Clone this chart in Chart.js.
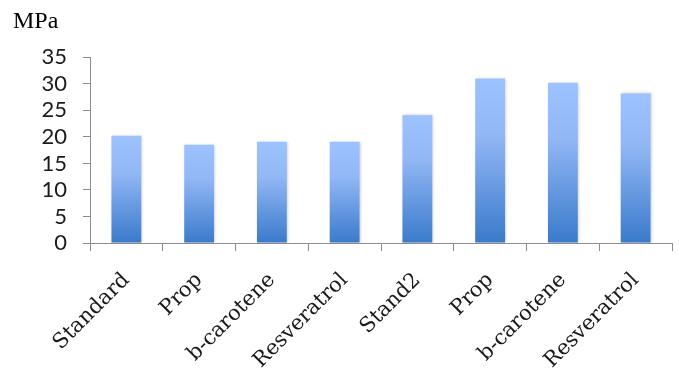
<!DOCTYPE html>
<html>
<head>
<meta charset="utf-8">
<script src="https://cdn.jsdelivr.net/npm/chart.js@4"></script>
<style>
  html, body { margin: 0; padding: 0; background: #fff; }
  #wrap { width: 679px; height: 376px; }
</style>
</head>
<body>
<div id="wrap"><canvas id="mpa"></canvas></div>
<script>
// data
var categories = ['Standard', 'Prop', 'b-carotene', 'Resveratrol', 'Stand2', 'Prop', 'b-carotene', 'Resveratrol'];
var mpaValues = [20.2, 18.5, 19.1, 19.1, 24.1, 31.0, 30.2, 28.2];
var yTicks = [0, 5, 10, 15, 20, 25, 30, 35];

// vertical gradient for each bar, from its top down to the zero line
function barGradient(context) {
    var chart = context.chart;
    var y = chart.scales.y;
    if (!y || !chart.chartArea || context.parsed === undefined) return '#7aa6e6';
    var top = y.getPixelForValue(context.parsed.y);
    var bottom = y.getPixelForValue(0);
    if (!isFinite(top) || !isFinite(bottom) || top === bottom) return '#7aa6e6';
    var g = chart.ctx.createLinearGradient(0, top, 0, bottom);
    g.addColorStop(0, '#9cc3ff');
    g.addColorStop(0.35, '#91b7f5');
    g.addColorStop(1, '#3a7acb');
    return g;
}

// soft shadow under the bars, like the original
var barShadow = {
    id: 'barShadow',
    beforeDatasetsDraw: function (chart) {
        var c = chart.ctx;
        c.save();
        c.shadowColor = 'rgba(0,0,0,0.22)';
        c.shadowBlur = 3;
        c.shadowOffsetX = 1;
        c.shadowOffsetY = 0;
    },
    afterDatasetsDraw: function (chart) {
        chart.ctx.restore();
    }
};

var ctx = document.getElementById('mpa').getContext('2d');
var myChart = new Chart(ctx, {
    type: 'bar',
    data: {
        labels: categories,
        datasets: [{
            label: 'MPa',
            data: mpaValues,
            backgroundColor: barGradient,
            borderWidth: 0,
            barPercentage: 0.41,
            categoryPercentage: 1
        }]
    },
    plugins: [barShadow],
    options: {
        responsive: true,
        maintainAspectRatio: false,
        animation: false,
        layout: { padding: { left: 13, right: 7, top: 0, bottom: 0 } },
        plugins: {
            legend: { display: false },
            tooltip: { enabled: false },
            title: {
                display: true,
                text: 'MPa',
                align: 'start',
                color: '#000',
                font: { family: 'Liberation Serif', size: 24, weight: 'normal' },
                padding: { top: 7, bottom: 21.5 }
            }
        },
        scales: {
            x: {
                offset: true,
                grid: {
                    offset: true,
                    drawOnChartArea: false,
                    tickLength: 8,
                    color: '#8c8c8c'
                },
                border: { color: '#8c8c8c', width: 1 },
                ticks: {
                    color: '#1a1a1a',
                    font: { family: 'DejaVu Serif', size: 21 },
                    maxRotation: 45,
                    minRotation: 45,
                    autoSkip: false,
                    padding: 17
                },
                afterFit: function (scale) { scale.height = 133; }
            },
            y: {
                min: 0,
                max: 35,
                afterBuildTicks: function (scale) {
                    scale.ticks = yTicks.map(function (v) { return { value: v }; });
                },
                grid: {
                    drawOnChartArea: false,
                    tickLength: 7,
                    color: '#8c8c8c'
                },
                border: { color: '#8c8c8c', width: 1 },
                ticks: {
                    color: '#1a1a1a',
                    font: { family: 'Lato', size: 22 },
                    autoSkip: false,
                    padding: 16
                },
                afterFit: function (scale) { scale.width = 77; }
            }
        }
    }
});
</script>
</body>
</html>
